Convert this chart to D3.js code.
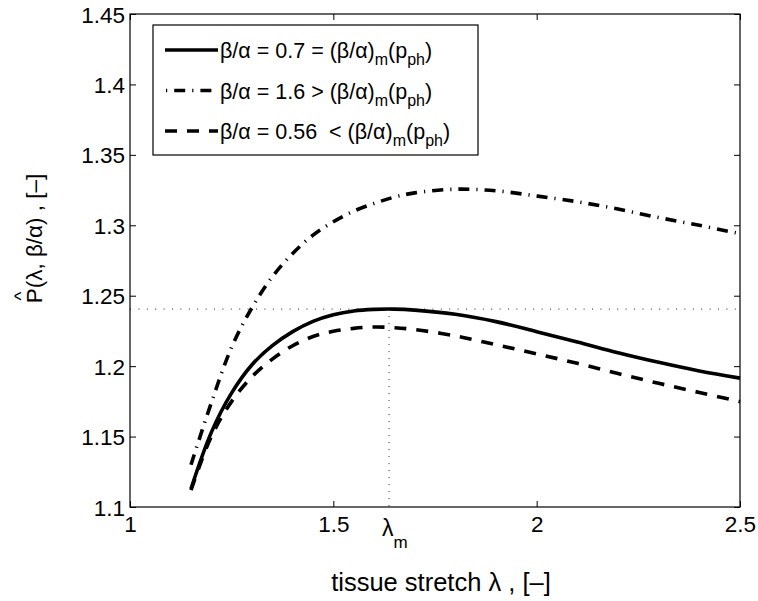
<!DOCTYPE html>
<html>
<head>
<meta charset="utf-8">
<script src="https://cdn.jsdelivr.net/npm/d3@7"></script>
<style>
  body { margin: 0; background: #fff; }
  text { font-family: "Liberation Sans", Arial, Helvetica, sans-serif; fill: #000; }
</style>
</head>
<body>
<svg id="chart"></svg>
<script>
// tissue stretch values (x)
const lambda = [1.15, 1.2, 1.25, 1.3, 1.35, 1.4, 1.45, 1.5, 1.55, 1.6, 1.65, 1.7, 1.8, 1.9, 2.0, 2.1, 2.2, 2.3, 2.4, 2.5];
// beta/alpha = 0.7 (solid)
const p070 = [1.113, 1.153, 1.181, 1.201, 1.2145, 1.2245, 1.2318, 1.2365, 1.2392, 1.2403, 1.2405, 1.2398, 1.2368, 1.2316, 1.2245, 1.2172, 1.2095, 1.2027, 1.1966, 1.1915];
// beta/alpha = 1.6 (dash-dot)
const p160 = [1.130, 1.174, 1.2135, 1.2415, 1.2635, 1.280, 1.293, 1.3025, 1.310, 1.3155, 1.3200, 1.3230, 1.3256, 1.3245, 1.3208, 1.3167, 1.3115, 1.3055, 1.300, 1.294];
// beta/alpha = 0.56 (dashed)
const p056 = [1.112, 1.150, 1.175, 1.1925, 1.205, 1.2145, 1.221, 1.2248, 1.2268, 1.2278, 1.2273, 1.226, 1.2215, 1.2152, 1.2087, 1.202, 1.1947, 1.1878, 1.1813, 1.1748];

const lambdaM = 1.637, pMax = 1.2405;

const xTicks = [1, 1.5, 2, 2.5];
const xTickLabels = ["1", "1.5", "2", "2.5"];
const yTicks = [1.1, 1.15, 1.2, 1.25, 1.3, 1.35, 1.4, 1.45];
const yTickLabels = ["1.1", "1.15", "1.2", "1.25", "1.3", "1.35", "1.4", "1.45"];

const width = 758, height = 601;
const margin = { top: 14, right: 18, bottom: 94, left: 130 };
const w = width - margin.left - margin.right,
  h = height - margin.top - margin.bottom;

const svg = d3.select("#chart").attr("width", width).attr("height", height);
const g = svg.append("g").attr("transform", "translate(" + margin.left + "," + margin.top + ")");

const x = d3.scaleLinear().domain([1, 2.5]).range([0, w]);
const y = d3.scaleLinear().domain([1.1, 1.45]).range([h, 0]);

// dotted guide lines at the maximum
g.append("line")
  .attr("x1", x(1)).attr("x2", x(2.5))
  .attr("y1", y(pMax)).attr("y2", y(pMax))
  .attr("stroke", "#222").attr("stroke-width", 1)
  .attr("stroke-dasharray", "1,7.4");
g.append("line")
  .attr("x1", x(lambdaM)).attr("x2", x(lambdaM))
  .attr("y1", y(pMax)).attr("y2", y(1.1))
  .attr("stroke", "#222").attr("stroke-width", 1)
  .attr("stroke-dasharray", "1,6");

// series
const series = [
  { values: p070, dash: null },
  { values: p160, dash: "11,7,1.2,7" },
  { values: p056, dash: "12,10" }
];

const line = d3.line()
  .x((d, i) => x(lambda[i]))
  .y(d => y(d))
  .curve(d3.curveCatmullRom.alpha(0.5));

g.selectAll("path.curve")
  .data(series)
  .enter()
  .append("path")
  .attr("class", "curve")
  .attr("d", d => line(d.values))
  .attr("fill", "none")
  .attr("stroke", "#000")
  .attr("stroke-width", 3.6)
  .attr("stroke-dasharray", d => d.dash);

// axes with inward ticks on all four sides
const tickLen = 6;
const xAxis = g.append("g").attr("transform", "translate(0," + h + ")")
  .call(d3.axisBottom(x).tickValues(xTicks).tickSize(-tickLen).tickSizeOuter(0)
    .tickFormat((d, i) => xTickLabels[i]));
const xAxisTop = g.append("g")
  .call(d3.axisTop(x).tickValues(xTicks).tickSize(-tickLen).tickSizeOuter(0).tickFormat(""));
const yAxis = g.append("g")
  .call(d3.axisLeft(y).tickValues(yTicks).tickSize(-tickLen).tickSizeOuter(0)
    .tickFormat((d, i) => yTickLabels[i]));
const yAxisRight = g.append("g").attr("transform", "translate(" + w + ",0)")
  .call(d3.axisRight(y).tickValues(yTicks).tickSize(-tickLen).tickSizeOuter(0).tickFormat(""));

[xAxis, xAxisTop, yAxis, yAxisRight].forEach(a => {
  a.select(".domain").remove();
  a.selectAll(".tick line").attr("stroke", "#000").attr("stroke-width", 1);
});
xAxis.selectAll(".tick text")
  .attr("font-size", "22.5px").attr("y", 9).attr("dy", "0.71em")
  .attr("font-family", "Liberation Sans, Arial, sans-serif");
yAxis.selectAll(".tick text")
  .attr("font-size", "22.5px").attr("x", -5).attr("dy", "0.36em")
  .attr("font-family", "Liberation Sans, Arial, sans-serif");

// frame
g.append("rect")
  .attr("width", w).attr("height", h)
  .attr("fill", "none").attr("stroke", "#000").attr("stroke-width", 1.2);

// lambda_m label
const lm = g.append("text")
  .attr("x", x(lambdaM) - 7).attr("y", h + 29)
  .attr("font-size", "23px");
lm.append("tspan").text("λ");
lm.append("tspan").attr("dy", 12).attr("font-size", "17px").text("m");

// axis titles
g.append("text")
  .attr("x", w / 2 + 6).attr("y", h + 84)
  .attr("text-anchor", "middle")
  .attr("font-size", "25.5px")
  .text("tissue stretch λ , [–]");

const yt = g.append("g").attr("transform", "translate(-88," + (h / 2 - 22) + ") rotate(-90)");
yt.append("text")
  .attr("text-anchor", "middle")
  .attr("font-size", "22.5px")
  .text("P(λ, β/α) , [–]");
yt.append("text")
  .attr("x", -62).attr("y", -15)
  .attr("font-size", "19px")
  .text("^");

// legend
const legend = svg.append("g").attr("transform", "translate(153,25)");
legend.append("rect")
  .attr("width", 325).attr("height", 130)
  .attr("fill", "#fff").attr("stroke", "#000").attr("stroke-width", 1.2);

const legendRows = [
  { dash: null, offset: 0, pre: "β/α = 0.7 = (β/α)" },
  { dash: "11,7,1.2,7", offset: 17, pre: "β/α = 1.6 > (β/α)" },
  { dash: "12,10", offset: 0, pre: "β/α = 0.56  < (β/α)" }
];

legendRows.forEach((r, i) => {
  const yy = 25 + i * 40.5;
  legend.append("line")
    .attr("x1", 12).attr("x2", 65)
    .attr("y1", yy).attr("y2", yy)
    .attr("stroke", "#000").attr("stroke-width", 3.6)
    .attr("stroke-dasharray", r.dash)
    .attr("stroke-dashoffset", r.offset);
  const t = legend.append("text")
    .attr("x", 67).attr("y", yy + 8)
    .attr("font-size", "21.5px")
    .attr("xml:space", "preserve");
  t.append("tspan").text(r.pre);
  t.append("tspan").attr("dy", 7).attr("font-size", "16px").text("m");
  t.append("tspan").attr("dy", -7).text("(p");
  t.append("tspan").attr("dy", 7).attr("font-size", "16px").text("ph");
  t.append("tspan").attr("dy", -7).text(")");
});
</script>
</body>
</html>
